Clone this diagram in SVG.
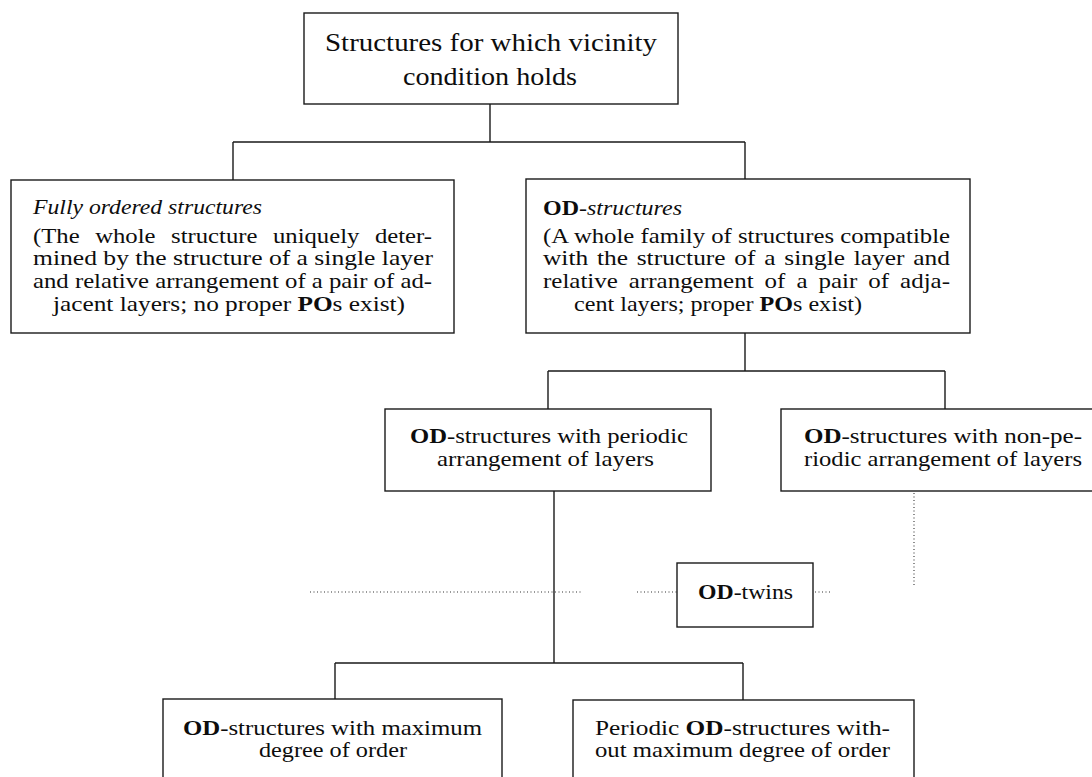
<svg xmlns="http://www.w3.org/2000/svg" width="1092" height="777" viewBox="0 0 1092 777">
<style>
.box{fill:#fff;stroke:#1a1a1a;stroke-width:1.4}
.ln{fill:none;stroke:#1a1a1a;stroke-width:1.4}
.dot{fill:none;stroke:#333;stroke-width:1.1;stroke-dasharray:1 2.5}
text{font-family:"Liberation Serif","Times New Roman",serif;fill:#0d0d0d}
.t{font-size:25px}
.b{font-size:21px}
.it{font-style:italic}
.bf{font-weight:bold}
</style>
<rect width="1092" height="777" fill="#fff"/>
<g id="connectors">
<path class="ln" d="M490,104 V142 M233,142 H745 M233,142 V180 M745,142 V179"/>
<path class="ln" d="M745,333 V371 M548,371 H945 M548,371 V409 M945,371 V409"/>
<path class="ln" d="M554,491 V663 M335,663 H743 M335,663 V699 M743,663 V700"/>
<path class="dot" d="M310,592 H583 M637,592 H677 M815,592 H830 M914,493 V587"/>
</g>
<g id="n-top">
<rect class="box" x="304" y="13" width="374" height="91"/>
<text class="t" x="325" y="51" textLength="332" lengthAdjust="spacingAndGlyphs">Structures for which vicinity</text>
<text class="t" x="403" y="85" textLength="174" lengthAdjust="spacingAndGlyphs">condition holds</text>
</g>
<g id="n-fully">
<rect class="box" x="11" y="180" width="443" height="153"/>
<text class="b it" x="33" y="214" textLength="229" lengthAdjust="spacingAndGlyphs">Fully ordered structures</text>
<text class="b" x="33" y="243" textLength="399" lengthAdjust="spacingAndGlyphs" style="word-spacing:8px">(The whole structure uniquely deter-</text>
<text class="b" x="33" y="265" textLength="400" lengthAdjust="spacingAndGlyphs">mined by the structure of a single layer</text>
<text class="b" x="33" y="288" textLength="399" lengthAdjust="spacingAndGlyphs">and relative arrangement of a pair of ad-</text>
<text class="b" x="53" y="311" textLength="352" lengthAdjust="spacingAndGlyphs">jacent layers; no proper <tspan class="bf">PO</tspan>s exist)</text>
</g>
<g id="n-od">
<rect class="box" x="526" y="179" width="444" height="154"/>
<text class="b" x="543" y="215" textLength="139" lengthAdjust="spacingAndGlyphs"><tspan class="bf">OD</tspan>-<tspan class="it">structures</tspan></text>
<text class="b" x="543" y="243" textLength="407" lengthAdjust="spacingAndGlyphs">(A whole family of structures compatible</text>
<text class="b" x="543" y="265" textLength="407" lengthAdjust="spacingAndGlyphs" style="word-spacing:2px">with the structure of a single layer and</text>
<text class="b" x="543" y="288" textLength="407" lengthAdjust="spacingAndGlyphs" style="word-spacing:4px">relative arrangement of a pair of adja-</text>
<text class="b" x="574" y="311" textLength="288" lengthAdjust="spacingAndGlyphs">cent layers; proper <tspan class="bf">PO</tspan>s exist)</text>
</g>
<g id="n-periodic">
<rect class="box" x="385" y="409" width="326" height="82"/>
<text class="b" x="410" y="443" textLength="278" lengthAdjust="spacingAndGlyphs"><tspan class="bf">OD</tspan>-structures with periodic</text>
<text class="b" x="437" y="466" textLength="217" lengthAdjust="spacingAndGlyphs">arrangement of layers</text>
</g>
<g id="n-nonperiodic">
<rect class="box" x="781" y="409" width="330" height="82"/>
<text class="b" x="804" y="443" textLength="278" lengthAdjust="spacingAndGlyphs"><tspan class="bf">OD</tspan>-structures with non-pe-</text>
<text class="b" x="804" y="466" textLength="278" lengthAdjust="spacingAndGlyphs">riodic arrangement of layers</text>
</g>
<g id="n-twins">
<rect class="box" x="677" y="563" width="136" height="64"/>
<text class="b" x="698" y="599" textLength="95" lengthAdjust="spacingAndGlyphs"><tspan class="bf">OD</tspan>-twins</text>
</g>
<g id="n-maxorder">
<rect class="box" x="163" y="699" width="339" height="100"/>
<text class="b" x="183" y="735" textLength="299" lengthAdjust="spacingAndGlyphs"><tspan class="bf">OD</tspan>-structures with maximum</text>
<text class="b" x="259" y="757" textLength="148" lengthAdjust="spacingAndGlyphs">degree of order</text>
</g>
<g id="n-nomaxorder">
<rect class="box" x="573" y="700" width="341" height="100"/>
<text class="b" x="595" y="735" textLength="295" lengthAdjust="spacingAndGlyphs">Periodic <tspan class="bf">OD</tspan>-structures with-</text>
<text class="b" x="595" y="757" textLength="295" lengthAdjust="spacingAndGlyphs">out maximum degree of order</text>
</g>
</svg>
